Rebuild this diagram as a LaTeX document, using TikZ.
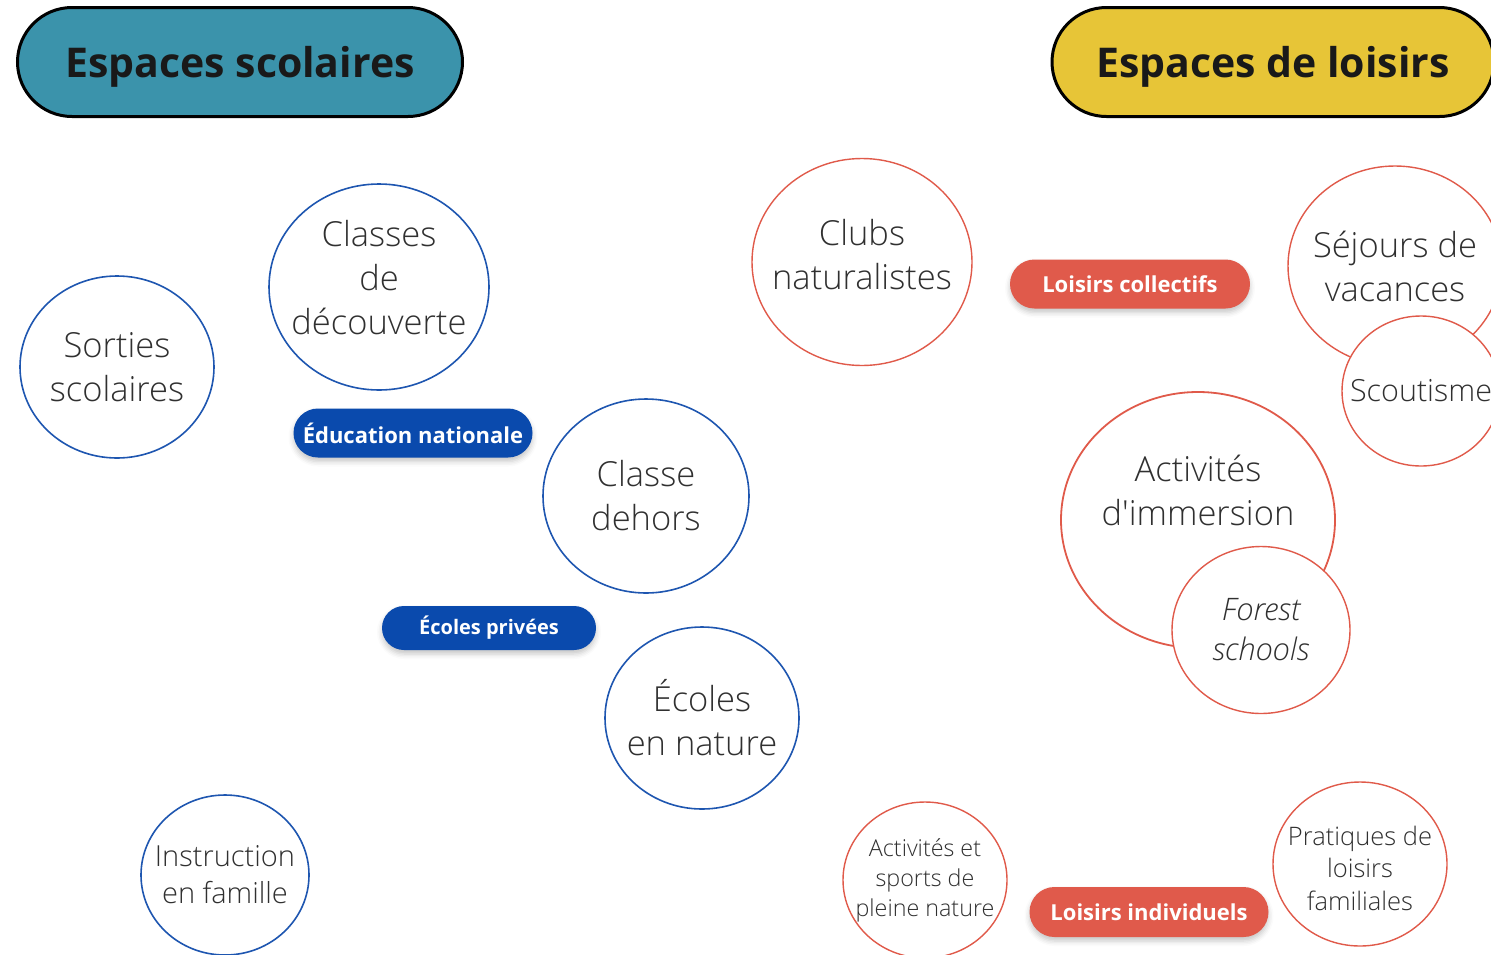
\documentclass[tikz,border=0pt]{standalone}
\usepackage{fontspec}
\setmainfont{Open Sans}
\newfontfamily\lightfont{Open Sans Light}
\newfontfamily\lightit{Open Sans Light Italic}
\newfontfamily\osraw{Open Sans Light}
\usetikzlibrary{shapes.geometric,shapes.misc,shadows,shadows.blur}
\definecolor{cTeal}{HTML}{3B93AB}
\definecolor{cYellow}{HTML}{E7C537}
\definecolor{cBlue}{HTML}{0A4AAD}
\definecolor{cBlueLine}{HTML}{1E56B0}
\definecolor{cRed}{HTML}{E05A4B}
\definecolor{cRedLine}{HTML}{E05A4A}
\definecolor{cText}{HTML}{303030}
\newcommand{\apos}{{\osraw'}}
\begin{document}
\begin{tikzpicture}[x=1pt,y=-1pt,
  title/.style={rounded rectangle, draw=black, line width=3pt, inner sep=0pt, text=black!90,
    text depth=0pt, font=\bfseries\fontsize{41}{46}\selectfont},
  pill/.style={rounded rectangle, inner sep=0pt, text=white,
    blur shadow={shadow xshift=0pt, shadow yshift=-4pt, shadow blur radius=5pt, shadow opacity=22}},
  bpill/.style={pill, fill=cBlue},
  rpill/.style={pill, fill=cRed},
  bcirc/.style={ellipse, draw=cBlueLine, line width=1.6pt, fill=white, inner sep=0pt},
  rcirc/.style={ellipse, draw=cRedLine, line width=1.4pt, fill=white, inner sep=0pt},
  ctxt/.style={align=center, text=cText, font=\lightfont\fontsize{34.5}{44}\selectfont},
]
\useasboundingbox (0,0) rectangle (1491,954);
\clip (0,0) rectangle (1491,954);

% titles
\node[title, fill=cTeal, minimum width=445pt, minimum height=109pt] (tsco) at (240,62) {Espaces scolaires};
\node[title, fill=cYellow, minimum width=442pt, minimum height=109pt] (tlois) at (1273,62) {Espaces de loisirs};

% blue circles
\node[bcirc, minimum width=194pt, minimum height=182pt,
  label={[ctxt]center:{Sorties\\scolaires}}] (sort) at (117,367) {};
\node[bcirc, minimum width=220pt, minimum height=206pt,
  label={[ctxt, yshift=9pt]center:{Classes\\de\\découverte}}] (cdd) at (379,287) {};
\node[bcirc, minimum width=206pt, minimum height=194pt,
  label={[ctxt]center:{Classe\\dehors}}] (cdh) at (646,496) {};
\node[bcirc, minimum width=194pt, minimum height=182pt,
  label={[ctxt]center:{Écoles\\en nature}}] (een) at (702,718) {};
\node[bcirc, minimum width=168pt, minimum height=160pt,
  label={[ctxt, font=\lightfont\fontsize{29}{37}\selectfont]center:{Instruction\\en famille}}] (ief) at (225,875) {};

% blue pills
\node[bpill, minimum width=239pt, minimum height=49pt, font=\bfseries\fontsize{22}{24}\selectfont] (edn) at (413,433) {Éducation nationale};
\node[bpill, minimum width=214pt, minimum height=44pt, font=\bfseries\fontsize{20}{22}\selectfont] (epr) at (489,628) {Écoles privées};

% red circles
\node[rcirc, minimum width=220pt, minimum height=207pt,
  label={[ctxt, yshift=7pt]center:{Clubs\\naturalistes}}] (clubs) at (862,262) {};
\node[rcirc, minimum width=214pt, minimum height=200pt,
  label={[ctxt]center:{Séjours de\\vacances}}] (sej) at (1395,266) {};
\node[rcirc, minimum width=158pt, minimum height=150pt,
  label={[ctxt, font=\lightfont\fontsize{30.5}{36}\selectfont]center:{Scoutisme}}] (scout) at (1421,391) {};
\node[rcirc, line width=1.8pt, minimum width=274pt, minimum height=256pt,
  label={[ctxt, yshift=30pt]center:{Activités\\d\apos immersion}}] (imm) at (1198,520) {};
\node[rcirc, minimum width=178pt, minimum height=167pt,
  label={[ctxt, font=\lightit\fontsize{31}{40}\selectfont]center:{Forest\\schools}}] (forest) at (1261,630) {};
\node[rcirc, minimum width=164pt, minimum height=156pt,
  label={[ctxt, font=\lightfont\fontsize{23.3}{30}\selectfont]center:{Activités et\\sports de\\pleine nature}}] (sport) at (925,880) {};
\node[rcirc, minimum width=174pt, minimum height=164pt,
  label={[ctxt, yshift=-4pt, font=\lightfont\fontsize{25.5}{32.5}\selectfont]center:{Pratiques de\\loisirs\\familiales}}] (fam) at (1360,864) {};

% red pills
\node[rpill, minimum width=240pt, minimum height=49pt, font=\bfseries\fontsize{22}{24}\selectfont] (lcol) at (1130,284) {Loisirs collectifs};
\node[rpill, minimum width=239pt, minimum height=50pt, font=\bfseries\fontsize{22}{24}\selectfont] (lind) at (1149,912) {Loisirs individuels};
\end{tikzpicture}
\end{document}
